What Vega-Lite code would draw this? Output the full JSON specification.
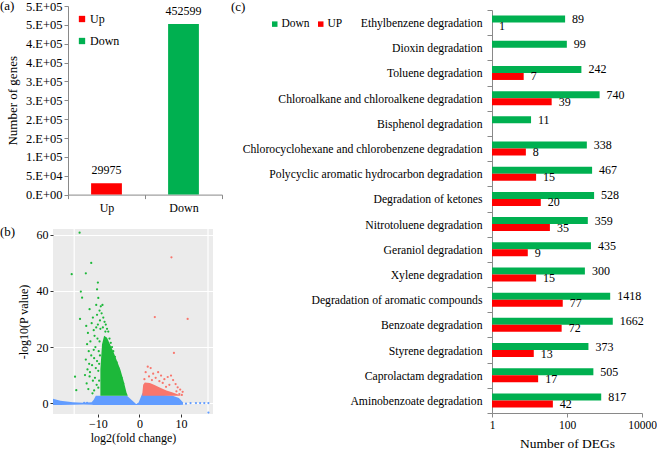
{
  "$schema": "https://vega.github.io/schema/vega-lite/v6.json",
  "background": "white",
  "padding": 0,
  "config": {
    "font": "Liberation Serif",
    "view": {"stroke": null},
    "axis": {"labelColor": "black", "titleColor": "black", "titleFontWeight": "normal", "domainColor": "#898989", "tickColor": "#898989", "grid": false},
    "title": {"fontWeight": "normal", "fontSize": 13, "color": "black"},
    "legend": {"labelColor": "black", "padding": 0}
  },
  "datasets": {
    "genes": [
      {"dir": "Up", "n": 29975},
      {"dir": "Down", "n": 452599}
    ],
    "bands": [
      {"g": "None", "x": -20.8, "lo": -0.7, "hi": 1.5},
      {"g": "None", "x": -19, "lo": -0.7, "hi": 0.8},
      {"g": "None", "x": -16, "lo": -0.6, "hi": 0.3},
      {"g": "None", "x": -13.5, "lo": -0.5, "hi": 0.1},
      {"g": "None", "x": -11.5, "lo": -0.6, "hi": 0.3},
      {"g": "None", "x": -11, "lo": -0.7, "hi": 1.2},
      {"g": "None", "x": -10.5, "lo": -0.7, "hi": 2.6},
      {"g": "None", "x": -3, "lo": -0.7, "hi": 2.6},
      {"g": "None", "x": -0.8, "lo": -0.7, "hi": -0.3},
      {"g": "None", "x": -0.2, "lo": -0.7, "hi": 0.2},
      {"g": "None", "x": 0.7, "lo": -0.7, "hi": 3.5},
      {"g": "None", "x": 8, "lo": -0.7, "hi": 2.6},
      {"g": "None", "x": 9.5, "lo": -0.7, "hi": 1.8},
      {"g": "None", "x": 10.5, "lo": -0.6, "hi": 0.2},
      {"g": "Down", "x": -9.4, "lo": 2.6, "hi": 12},
      {"g": "Down", "x": -9.0, "lo": 2.6, "hi": 21},
      {"g": "Down", "x": -8.5, "lo": 2.6, "hi": 24},
      {"g": "Down", "x": -7.8, "lo": 2.6, "hi": 23.3},
      {"g": "Down", "x": -6.2, "lo": 2.6, "hi": 18},
      {"g": "Down", "x": -4.6, "lo": 2.6, "hi": 12},
      {"g": "Down", "x": -3.8, "lo": 2.6, "hi": 7.9},
      {"g": "Down", "x": -3.1, "lo": 2.6, "hi": 3.7},
      {"g": "Down", "x": -2.8, "lo": 2.6, "hi": 2.6},
      {"g": "Up", "x": 0.7, "lo": 2.6, "hi": 3.5},
      {"g": "Up", "x": 0.9, "lo": 2.6, "hi": 6.5},
      {"g": "Up", "x": 1.3, "lo": 2.6, "hi": 7.3},
      {"g": "Up", "x": 2.5, "lo": 2.6, "hi": 7.2},
      {"g": "Up", "x": 3.5, "lo": 2.6, "hi": 6.5},
      {"g": "Up", "x": 5, "lo": 2.6, "hi": 5.5},
      {"g": "Up", "x": 6.5, "lo": 2.6, "hi": 4.5},
      {"g": "Up", "x": 8, "lo": 2.6, "hi": 3.8},
      {"g": "Up", "x": 9.5, "lo": 2.6, "hi": 3.0},
      {"g": "Up", "x": 10, "lo": 2.6, "hi": 2.6}
    ],
    "pts": [
      {"g": "Down", "x": -14.4, "y": 60.8}, {"g": "Down", "x": -11.6, "y": 50}, {"g": "Down", "x": -16.3, "y": 46},
      {"g": "Down", "x": -12.9, "y": 46.3}, {"g": "Down", "x": -14.1, "y": 39.8}, {"g": "Down", "x": -13.8, "y": 37.6},
      {"g": "Down", "x": -10, "y": 43}, {"g": "Down", "x": -10.2, "y": 40.6}, {"g": "Down", "x": -14.3, "y": 30},
      {"g": "Down", "x": -15.5, "y": 9.4}, {"g": "Down", "x": -15.2, "y": 4.6}, {"g": "Down", "x": -9.9, "y": 37.5},
      {"g": "Down", "x": -10.4, "y": 35}, {"g": "Down", "x": -12, "y": 33.5},
      {"g": "Down", "x": -12.8, "y": 27.5}, {"g": "Down", "x": -12.4, "y": 25}, {"g": "Down", "x": -12.6, "y": 21},
      {"g": "Down", "x": -12.2, "y": 18.5}, {"g": "Down", "x": -12.9, "y": 15.5}, {"g": "Down", "x": -12.5, "y": 12},
      {"g": "Down", "x": -12.0, "y": 9.5}, {"g": "Down", "x": -12.7, "y": 7}, {"g": "Down", "x": -12.3, "y": 5},
      {"g": "Down", "x": -11.8, "y": 22}, {"g": "Down", "x": -11.6, "y": 17}, {"g": "Down", "x": -11.4, "y": 13.5},
      {"g": "Down", "x": -11.9, "y": 11}, {"g": "Down", "x": -11.2, "y": 8}, {"g": "Down", "x": -11.5, "y": 28.5},
      {"g": "Down", "x": -11.0, "y": 26}, {"g": "Down", "x": -11.2, "y": 30.5}, {"g": "Down", "x": -10.8, "y": 24},
      {"g": "Down", "x": -10.6, "y": 20}, {"g": "Down", "x": -10.9, "y": 16}, {"g": "Down", "x": -10.5, "y": 12.5},
      {"g": "Down", "x": -10.7, "y": 9}, {"g": "Down", "x": -10.3, "y": 6.5}, {"g": "Down", "x": -10.9, "y": 4.5},
      {"g": "Down", "x": -10.2, "y": 31.5}, {"g": "Down", "x": -10.0, "y": 28}, {"g": "Down", "x": -10.1, "y": 23},
      {"g": "Down", "x": -9.8, "y": 18.5}, {"g": "Down", "x": -10.2, "y": 15}, {"g": "Down", "x": -9.9, "y": 11.5},
      {"g": "Down", "x": -9.7, "y": 8}, {"g": "Down", "x": -9.9, "y": 5.5}, {"g": "Down", "x": -9.6, "y": 33},
      {"g": "Down", "x": -9.5, "y": 29.5}, {"g": "Down", "x": -9.3, "y": 34.5}, {"g": "Down", "x": -9.1, "y": 32},
      {"g": "Down", "x": -8.9, "y": 35}, {"g": "Down", "x": -9.4, "y": 26.5}, {"g": "Down", "x": -9.6, "y": 22},
      {"g": "Down", "x": -9.7, "y": 14}, {"g": "Down", "x": -9.5, "y": 17}, {"g": "Down", "x": -8.7, "y": 30.5},
      {"g": "Down", "x": -8.4, "y": 29}, {"g": "Down", "x": -8.1, "y": 28}, {"g": "Down", "x": -7.8, "y": 26.5},
      {"g": "Down", "x": -7.5, "y": 25.5}, {"g": "Down", "x": -7.2, "y": 23}, {"g": "Down", "x": -6.9, "y": 21.5},
      {"g": "Down", "x": -6.6, "y": 20}, {"g": "Down", "x": -6.3, "y": 18.5}, {"g": "Down", "x": -5.9, "y": 16.5},
      {"g": "Down", "x": -5.5, "y": 14.5}, {"g": "Down", "x": -5.1, "y": 12.5}, {"g": "Down", "x": -4.7, "y": 10.5},
      {"g": "Down", "x": -4.3, "y": 9}, {"g": "Down", "x": -3.9, "y": 7}, {"g": "Down", "x": -11.3, "y": 3.5},
      {"g": "Down", "x": -12.1, "y": 14}, {"g": "Down", "x": -13.1, "y": 10}, {"g": "Down", "x": -11.0, "y": 19},
      {"g": "Down", "x": -10.4, "y": 27}, {"g": "Down", "x": -8.8, "y": 27}, {"g": "Down", "x": -8.2, "y": 25.5},
      {"g": "Up", "x": 7.7, "y": 52}, {"g": "Up", "x": 3.7, "y": 30.7}, {"g": "Up", "x": 11.6, "y": 30},
      {"g": "Up", "x": 8.3, "y": 17.9}, {"g": "Up", "x": 2.0, "y": 13}, {"g": "Up", "x": 2.7, "y": 12.5},
      {"g": "Up", "x": 1.5, "y": 11}, {"g": "Up", "x": 3.3, "y": 10.5}, {"g": "Up", "x": 4.5, "y": 11},
      {"g": "Up", "x": 2.3, "y": 9.5}, {"g": "Up", "x": 3.9, "y": 9}, {"g": "Up", "x": 5.2, "y": 9.8},
      {"g": "Up", "x": 6.0, "y": 8.5}, {"g": "Up", "x": 6.8, "y": 9.3}, {"g": "Up", "x": 7.6, "y": 9.8},
      {"g": "Up", "x": 8.1, "y": 8.2}, {"g": "Up", "x": 5.6, "y": 7.2}, {"g": "Up", "x": 7.2, "y": 6.5},
      {"g": "Up", "x": 8.7, "y": 6.8}, {"g": "Up", "x": 9.2, "y": 5.6}, {"g": "Up", "x": 9.8, "y": 4.8},
      {"g": "Up", "x": 10.4, "y": 4}, {"g": "Up", "x": 6.4, "y": 5.8}, {"g": "Up", "x": 4.8, "y": 7.8},
      {"g": "Up", "x": 3.0, "y": 8.2}, {"g": "Up", "x": 1.2, "y": 8.5}, {"g": "Up", "x": 8.9, "y": 4.2},
      {"g": "Up", "x": 9.6, "y": 3.2}, {"g": "Up", "x": 10.2, "y": 2.9},
      {"g": "None", "x": 11.2, "y": -0.2}, {"g": "None", "x": 12.3, "y": 0}, {"g": "None", "x": 13.6, "y": 0},
      {"g": "None", "x": 14.6, "y": 0}, {"g": "None", "x": 15.6, "y": 0}, {"g": "None", "x": 16.6, "y": 0},
      {"g": "None", "x": 16.6, "y": -3.4}, {"g": "None", "x": -13.3, "y": 0.1}, {"g": "None", "x": -12.6, "y": 0.1}
    ],
    "vgrid": [{"x": -15.7}, {"x": 16.5}],
    "degs": [
      {"path": "Ethylbenzene degradation", "dir": "Down", "n": 89},
      {"path": "Ethylbenzene degradation", "dir": "UP", "n": 1},
      {"path": "Dioxin degradation", "dir": "Down", "n": 99},
      {"path": "Toluene degradation", "dir": "Down", "n": 242},
      {"path": "Toluene degradation", "dir": "UP", "n": 7},
      {"path": "Chloroalkane and chloroalkene degradation", "dir": "Down", "n": 740},
      {"path": "Chloroalkane and chloroalkene degradation", "dir": "UP", "n": 39},
      {"path": "Bisphenol degradation", "dir": "Down", "n": 11},
      {"path": "Chlorocyclohexane and chlorobenzene degradation", "dir": "Down", "n": 338},
      {"path": "Chlorocyclohexane and chlorobenzene degradation", "dir": "UP", "n": 8},
      {"path": "Polycyclic aromatic hydrocarbon degradation", "dir": "Down", "n": 467},
      {"path": "Polycyclic aromatic hydrocarbon degradation", "dir": "UP", "n": 15},
      {"path": "Degradation of ketones", "dir": "Down", "n": 528},
      {"path": "Degradation of ketones", "dir": "UP", "n": 20},
      {"path": "Nitrotoluene degradation", "dir": "Down", "n": 359},
      {"path": "Nitrotoluene degradation", "dir": "UP", "n": 35},
      {"path": "Geraniol degradation", "dir": "Down", "n": 435},
      {"path": "Geraniol degradation", "dir": "UP", "n": 9},
      {"path": "Xylene degradation", "dir": "Down", "n": 300},
      {"path": "Xylene degradation", "dir": "UP", "n": 15},
      {"path": "Degradation of aromatic compounds", "dir": "Down", "n": 1418},
      {"path": "Degradation of aromatic compounds", "dir": "UP", "n": 77},
      {"path": "Benzoate degradation", "dir": "Down", "n": 1662},
      {"path": "Benzoate degradation", "dir": "UP", "n": 72},
      {"path": "Styrene degradation", "dir": "Down", "n": 373},
      {"path": "Styrene degradation", "dir": "UP", "n": 13},
      {"path": "Caprolactam degradation", "dir": "Down", "n": 505},
      {"path": "Caprolactam degradation", "dir": "UP", "n": 17},
      {"path": "Aminobenzoate degradation", "dir": "Down", "n": 817},
      {"path": "Aminobenzoate degradation", "dir": "UP", "n": 42}
    ]
  },
  "resolve": {"scale": {"color": "independent"}, "legend": {"color": "independent"}},
  "spacing": 8,
  "hconcat": [
    {
      "spacing": 12,
      "resolve": {"scale": {"color": "independent"}, "legend": {"color": "independent"}},
      "vconcat": [
        {
          "width": 169,
          "height": 188.6,
          "title": {"text": "(a)", "anchor": "start", "frame": "group", "dx": -53, "dy": 17, "fontSize": 13},
          "data": {"name": "genes"},
          "encoding": {
            "x": {
              "field": "dir", "type": "nominal", "sort": ["Up", "Down"],
              "scale": {"range": [15, 169], "paddingInner": 0, "paddingOuter": 0},
              "axis": {"title": null, "labelAngle": 0, "tickBand": "extent", "labelFontSize": 12, "tickSize": 4, "labelPadding": 4}
            },
            "y": {
              "field": "n", "type": "quantitative",
              "scale": {"domain": [0, 500000], "nice": false},
              "axis": {
                "title": "Number of genes", "titleFontSize": 13, "titlePadding": 6,
                "values": [0, 50000, 100000, 150000, 200000, 250000, 300000, 350000, 400000, 450000, 500000],
                "labelExpr": "datum.value == 0 ? '0.E+00' : (datum.value < 100000 ? '5.E+04' : round(datum.value / 100000) + '.E+05')",
                "labelFontSize": 12.5, "tickSize": 4, "labelPadding": 2, "offset": -15
              }
            }
          },
          "layer": [
            {
              "mark": {"type": "bar", "width": {"band": 0.4}},
              "encoding": {
                "color": {
                  "field": "dir", "type": "nominal",
                  "scale": {"domain": ["Up", "Down"], "range": ["#FF0000", "#00B050"]},
                  "legend": {"orient": "none", "legendX": 23, "legendY": 7, "title": null, "symbolType": "square", "symbolSize": 40, "symbolStrokeWidth": 0, "labelFontSize": 12, "rowPadding": 10, "labelOffset": 2}
                }
              }
            },
            {
              "mark": {"type": "text", "baseline": "bottom", "dy": -6, "fontSize": 12},
              "encoding": {"text": {"field": "n", "type": "quantitative", "format": "d"}}
            }
          ]
        },
        {
          "width": 160,
          "height": 185,
          "view": {"fill": "#EBEBEB"},
          "title": {"text": "(b)", "anchor": "start", "frame": "group", "dx": -53, "dy": 15, "fontSize": 13},
          "layer": [
            {
              "data": {"name": "vgrid"},
              "mark": {"type": "rule", "color": "white", "strokeWidth": 1.2},
              "encoding": {
                "x": {"field": "x", "type": "quantitative", "scale": {"domain": [-20.8, 17.7], "nice": false, "zero": false}}
              }
            },
            {
              "data": {"name": "bands"},
              "mark": {"type": "area", "opacity": 1, "clip": true},
              "encoding": {
                "x": {"field": "x", "type": "quantitative", "scale": {"domain": [-20.8, 17.7], "nice": false, "zero": false},
                  "axis": {"title": "log2(fold change)", "titleFontSize": 12, "values": [-10, 0, 10], "domain": false, "tickColor": "#333333", "tickSize": 3, "labelFontSize": 12, "labelPadding": 1, "titlePadding": 3}},
                "y": {"field": "hi", "type": "quantitative", "scale": {"domain": [-3.9, 62.1], "nice": false, "zero": false},
                  "axis": {"title": "-log10(P value)", "titleFontSize": 12, "values": [0, 20, 40, 60], "grid": true, "gridColor": "white", "gridWidth": 1.2, "domain": false, "tickColor": "#333333", "tickSize": 3, "labelFontSize": 12, "labelPadding": 2, "titlePadding": 6}},
                "y2": {"field": "lo"},
                "color": {"field": "g", "type": "nominal", "scale": {"domain": ["Down", "None", "Up"], "range": ["#1DB83A", "#619CFF", "#F8766D"]}, "legend": null}
              }
            },
            {
              "data": {"name": "pts"},
              "mark": {"type": "circle", "size": 5, "opacity": 1, "clip": true},
              "encoding": {
                "x": {"field": "x", "type": "quantitative", "scale": {"domain": [-20.8, 17.7], "nice": false, "zero": false}},
                "y": {"field": "y", "type": "quantitative", "scale": {"domain": [-3.9, 62.1], "nice": false, "zero": false}},
                "color": {"field": "g", "type": "nominal", "legend": null}
              }
            }
          ]
        }
      ]
    },
    {
      "width": 150,
      "height": 407,
      "title": {"text": "(c)", "anchor": "start", "frame": "group", "dx": -261, "dy": 17, "fontSize": 13},
      "data": {"name": "degs"},
      "encoding": {
        "y": {
          "field": "path", "type": "nominal", "sort": null,
          "scale": {"range": [4, 407], "paddingInner": 0, "paddingOuter": 0},
          "axis": {"title": null, "labelFontSize": 11.7, "labelLimit": 400, "tickBand": "extent", "tickSize": 5, "labelPadding": 5}
        },
        "yOffset": {"field": "dir", "type": "nominal", "sort": ["Down", "UP"], "scale": {"paddingInner": 0, "paddingOuter": 0.8}},
        "x": {
          "field": "n", "type": "quantitative",
          "scale": {"type": "log", "domain": [1, 10000], "nice": false},
          "axis": {"title": "Number of DEGs", "titleFontSize": 13.5, "values": [1, 100, 10000], "format": "d", "labelFlush": false, "labelFontSize": 11.5, "tickSize": 4, "labelPadding": 2, "titlePadding": 6}
        }
      },
      "layer": [
        {
          "mark": {"type": "bar"},
          "encoding": {
            "x2": {"datum": 1},
            "color": {
              "field": "dir", "type": "nominal",
              "scale": {"domain": ["Down", "UP"], "range": ["#00B050", "#FF0000"]},
              "legend": {"orient": "none", "direction": "horizontal", "legendX": -223, "legendY": 12, "title": null, "symbolType": "square", "symbolSize": 30, "symbolStrokeWidth": 0, "labelFontSize": 11.5, "columnPadding": 5, "labelOffset": 1}
            }
          }
        },
        {
          "mark": {"type": "text", "align": "left", "baseline": "middle", "dx": 7, "fontSize": 12},
          "encoding": {"text": {"field": "n", "type": "quantitative", "format": "d"}}
        }
      ]
    }
  ]
}
